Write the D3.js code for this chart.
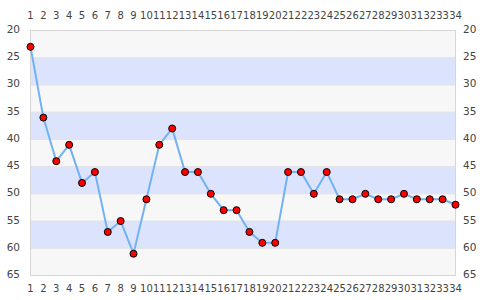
<!DOCTYPE html>
<html>
<head>
<meta charset="utf-8">
<script src="https://cdn.jsdelivr.net/npm/d3@7"></script>
<style>
body { margin: 0; background: #fff; }
text { font-family: "DejaVu Sans", sans-serif; font-size: 10px; fill: #444; }
</style>
</head>
<body>
<div id="chart"></div>
<script>
// x categories 1..34
var rounds = [1,2,3,4,5,6,7,8,9,10,11,12,13,14,15,16,17,18,19,20,21,22,23,24,25,26,27,28,29,30,31,32,33,34];
var positions = [23,36,44,41,48,46,57,55,61,51,41,38,46,46,50,53,53,57,59,59,46,46,50,46,51,51,50,51,51,50,51,51,51,52];
var yTicks = [20,25,30,35,40,45,50,55,60,65];

var width = 485, height = 300;
var plotLeft = 30.5, plotRight = 455.5, plotTop = 30.5, plotBottom = 275.5;

var svg = d3.select("#chart").append("svg")
    .attr("width", width)
    .attr("height", height);

var x = d3.scaleLinear().domain([1, 34]).range([plotLeft, plotRight]);
var y = d3.scaleLinear().domain([20, 65]).range([plotTop, plotBottom]);

// alternating bands
var bands = d3.range(0, yTicks.length - 1);
svg.selectAll(".band")
    .data(bands)
    .enter().append("rect")
    .attr("x", plotLeft)
    .attr("y", function (i) { return y(yTicks[i]); })
    .attr("width", plotRight - plotLeft)
    .attr("height", function (i) { return y(yTicks[i + 1]) - y(yTicks[i]); })
    .attr("fill", function (i) { return i % 2 ? "#dce4fd" : "#f7f7f7"; });

svg.selectAll(".grid")
    .data(yTicks.slice(1, -1))
    .enter().append("line")
    .attr("x1", plotLeft).attr("x2", plotRight)
    .attr("y1", function (d) { return y(d); })
    .attr("y2", function (d) { return y(d); })
    .attr("stroke", "#e2e2e2");

svg.append("rect")
    .attr("x", plotLeft).attr("y", plotTop)
    .attr("width", plotRight - plotLeft).attr("height", plotBottom - plotTop)
    .attr("fill", "none").attr("stroke", "#d6d6d6");

// axes labels
svg.selectAll(".xt")
    .data(rounds)
    .enter().append("text")
    .attr("x", function (d) { return x(d); })
    .attr("y", 19)
    .attr("text-anchor", "middle")
    .text(function (d) { return d; });
svg.selectAll(".xb")
    .data(rounds)
    .enter().append("text")
    .attr("x", function (d) { return x(d); })
    .attr("y", 292)
    .attr("text-anchor", "middle")
    .text(function (d) { return d; });
svg.selectAll(".yl")
    .data(yTicks)
    .enter().append("text")
    .attr("x", 20)
    .attr("y", function (d) { return y(d) + 2.5; })
    .attr("text-anchor", "end")
    .style("font-size", "10.5px")
    .text(function (d) { return d; });
svg.selectAll(".yr")
    .data(yTicks)
    .enter().append("text")
    .attr("x", 463)
    .attr("y", function (d) { return y(d) + 2.5; })
    .attr("text-anchor", "start")
    .style("font-size", "10.5px")
    .text(function (d) { return d; });

var line = d3.line()
    .x(function (d, i) { return x(rounds[i]); })
    .y(function (d) { return y(d); });

svg.append("path")
    .datum(positions)
    .attr("d", line)
    .attr("fill", "none")
    .attr("stroke", "#72b2f3")
    .attr("stroke-width", 2);

svg.selectAll(".dot")
    .data(positions)
    .enter().append("circle")
    .attr("cx", function (d, i) { return x(rounds[i]); })
    .attr("cy", function (d) { return y(d); })
    .attr("r", 3.5)
    .attr("fill", "#ff0000")
    .attr("stroke", "#000")
    .attr("stroke-width", 1);
</script>
</body>
</html>
